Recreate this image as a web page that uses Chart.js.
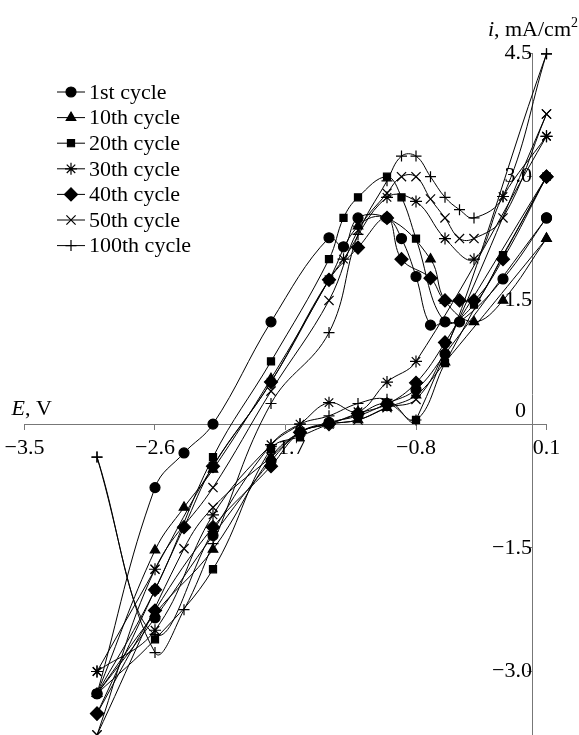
<html>
<head>
<meta charset="utf-8" />
<title>Cyclic voltammograms</title>
<script src="https://cdn.jsdelivr.net/npm/chart.js@4.4.0/dist/chart.umd.min.js"></script>
<style>
  html, body { margin: 0; padding: 0; background: #fff; overflow: hidden; }
</style>
</head>
<body>
<canvas id="grafico" width="579" height="735"></canvas>
<script>
// tick labels
const ticksE = [-3.5, -2.6, -1.7, -0.8, 0.1];
const ticksI = [-3.0, -1.5, 1.5, 3.0, 4.5];   // the 0 label sits above the axis, drawn apart

const nomes = ['1st cycle', '10th cycle', '20th cycle', '30th cycle', '40th cycle', '50th cycle', '100th cycle'];
const simbolos = ['circle', 'triangle', 'rect', 'star', 'rectRot', 'crossRot', 'cross'];
const raios = [5, 5.5, 5, 6, 6.5, 6.5, 5.5];

// [E, i] pairs: forward sweep, then the way back
const fwd1 = [[-3.0,-3.27],[-2.6,-0.77],[-2.4,-0.35],[-2.2,0.0],[-1.8,1.24],[-1.4,2.26],[-1.3,2.15],[-1.2,2.5],[-1.0,2.5],[-0.9,2.25],[-0.8,1.79],[-0.7,1.2],[-0.6,1.24],[-0.5,1.24],[-0.2,1.76],[0.1,2.5]];
const rev1 = [[-0.6,0.85],[-0.8,0.42],[-1.0,0.25],[-1.2,0.1],[-1.4,0.02],[-1.6,-0.1],[-1.8,-0.45],[-2.2,-1.35],[-2.6,-2.35],[-3.0,-3.27]];

const fwd10 = [[-3.0,-3.27],[-2.6,-1.53],[-2.4,-1.01],[-2.2,-0.55],[-1.8,0.55],[-1.4,1.75],[-1.2,2.4],[-1.0,2.5],[-0.7,2.0],[-0.6,1.5],[-0.4,1.24],[-0.2,1.5],[0.1,2.25]];
const rev10 = [[-0.6,0.75],[-0.8,0.35],[-1.0,0.2],[-1.2,0.05],[-1.4,0.0],[-1.6,-0.1],[-1.8,-0.4],[-2.2,-1.52],[-2.6,-2.3],[-3.0,-3.27]];

const fwd20 = [[-3.0,-3.27],[-2.6,-2.01],[-2.2,-0.4],[-1.8,0.76],[-1.4,2.0],[-1.3,2.5],[-1.2,2.75],[-1.0,3.0],[-0.9,2.75],[-0.8,2.25],[-0.6,1.24],[-0.4,1.45],[-0.2,2.05],[0.1,3.0]];
const rev20 = [[-0.6,0.74],[-0.8,0.05],[-1.0,0.25],[-1.2,0.12],[-1.4,0.0],[-1.6,-0.15],[-1.8,-0.3],[-2.2,-1.76],[-2.6,-2.61],[-3.0,-3.27]];

const fwd30 = [[-3.0,-3.0],[-2.6,-1.76],[-2.2,-0.51],[-1.8,0.51],[-1.4,1.75],[-1.3,2.0],[-1.0,2.75],[-0.8,2.7],[-0.6,2.25],[-0.4,2.0],[-0.2,2.76],[0.1,3.49]];
const rev30 = [[-0.8,0.76],[-1.0,0.51],[-1.2,0.15],[-1.4,0.26],[-1.6,0.0],[-1.8,-0.25],[-2.2,-1.1],[-2.6,-2.5],[-3.0,-3.0]];

const fwd40 = [[-3.0,-3.51],[-2.6,-2.01],[-2.4,-1.25],[-2.2,-0.51],[-1.8,0.51],[-1.4,1.75],[-1.2,2.14],[-1.0,2.5],[-0.9,2.0],[-0.7,1.77],[-0.6,1.5],[-0.5,1.5],[-0.4,1.5],[-0.2,2.0],[0.1,3.0]];
const rev40 = [[-0.6,0.99],[-0.8,0.5],[-1.0,0.24],[-1.2,0.13],[-1.4,0.0],[-1.6,-0.1],[-1.8,-0.51],[-2.2,-1.25],[-2.6,-2.26],[-3.0,-3.51]];

const fwd50 = [[-3.0,-3.77],[-2.6,-1.76],[-2.2,-0.77],[-1.8,0.4],[-1.4,1.5],[-1.2,2.35],[-1.0,2.8],[-0.9,3.0],[-0.8,3.0],[-0.7,2.73],[-0.6,2.5],[-0.5,2.25],[-0.4,2.25],[-0.2,2.5],[0.1,3.76]];
const rev50 = [[-0.6,0.9],[-0.8,0.3],[-1.0,0.2],[-1.2,0.05],[-1.4,0.0],[-1.6,-0.1],[-1.8,-0.4],[-2.2,-1.01],[-2.4,-1.51],[-3.0,-3.77]];

const fwd100 = [[-3.0,-0.4],[-2.6,-2.77],[-2.4,-2.25],[-2.2,-1.45],[-1.8,0.25],[-1.4,1.11],[-1.2,2.3],[-1.0,2.95],[-0.9,3.25],[-0.8,3.25],[-0.7,3.0],[-0.6,2.75],[-0.5,2.6],[-0.4,2.5],[-0.2,2.76],[0.1,4.49]];
const rev100 = [[-0.8,0.05],[-1.0,0.3],[-1.2,0.25],[-1.4,0.1],[-1.6,0.0],[-1.8,-0.25],[-2.2,-1.3],[-2.6,-2.55],[-3.0,-0.4]];

const ciclos = [[fwd1, rev1], [fwd10, rev10], [fwd20, rev20], [fwd30, rev30], [fwd40, rev40], [fwd50, rev50], [fwd100, rev100]];

const fonte = '"Liberation Serif", "Times New Roman", serif';
const menos = v => (v < 0 ? '\u2212' : '') + Math.abs(v).toFixed(1);

// break the line at the turning point so each sweep ends in a sharp corner
function montar(fwd, rev) {
    const pts = fwd.map(p => ({x: p[0], y: p[1]}));
    const ultimo = pts[pts.length - 1];
    pts.push({x: null, y: null});
    pts.push({x: ultimo.x, y: ultimo.y});
    rev.forEach(p => pts.push({x: p[0], y: p[1]}));
    return pts;
}

const textos = {
    id: 'textos',
    afterDraw(chart) {
        const c = chart.ctx;
        const sx = chart.scales.x, sy = chart.scales.y;
        const x0 = sx.getPixelForValue(0), y0 = sy.getPixelForValue(0);
        c.save();
        c.fillStyle = '#000';
        c.textBaseline = 'alphabetic';

        c.font = '22px ' + fonte;
        c.textAlign = 'right';
        c.fillText('0', x0 - 6, y0 - 7);

        // E, V
        c.textAlign = 'left';
        let px = sx.left - 13;
        c.font = 'italic 22px ' + fonte;
        c.fillText('E', px, y0 - 9);
        px += c.measureText('E').width;
        c.font = '22px ' + fonte;
        c.fillText(', V', px, y0 - 9);

        // i, mA/cm2
        c.font = 'italic 22px ' + fonte;
        const wi = c.measureText('i').width;
        c.font = '22px ' + fonte;
        const wu = c.measureText(', mA/cm').width;
        c.font = '14px ' + fonte;
        const w2 = c.measureText('2').width;
        px = 578 - wi - wu - w2;
        const by = 36;
        c.font = 'italic 22px ' + fonte;
        c.fillText('i', px, by);
        c.font = '22px ' + fonte;
        c.fillText(', mA/cm', px + wi, by);
        c.font = '14px ' + fonte;
        c.fillText('2', px + wi + wu, by - 9);

        // legend: short line with the marker on it
        c.font = '22px ' + fonte;
        c.textBaseline = 'middle';
        chart.data.datasets.forEach((ds, k) => {
            const y = 92 + k * 25.6;
            c.strokeStyle = '#000';
            c.lineWidth = 1;
            c.beginPath();
            c.moveTo(57, y);
            c.lineTo(85, y);
            c.stroke();
            c.fillStyle = '#000';
            c.lineWidth = 1.2;
            Chart.helpers.drawPoint(c, {pointStyle: ds.pointStyle, radius: ds.pointRadius, borderWidth: 1.2, rotation: 0}, 71, y);
            c.fillText(ds.label, 89, y + 1);
        });
        c.restore();
    }
};

Chart.defaults.font.family = fonte;
Chart.defaults.color = '#000';

// labels must not shrink the plot: the axes cross inside it
const semMargem = s => { s.paddingTop = 0; s.paddingBottom = 0; s.paddingLeft = 0; s.paddingRight = 0; };

new Chart(document.getElementById('grafico'), {
    type: 'scatter',
    data: {
        datasets: ciclos.map((c, k) => ({
            label: nomes[k],
            data: montar(c[0], c[1]),
            showLine: true,
            spanGaps: false,
            tension: 0.4,
            borderColor: '#000',
            backgroundColor: '#000',
            borderWidth: 1,
            pointStyle: simbolos[k],
            pointRadius: raios[k],
            pointBorderWidth: 1.2,
            pointBorderColor: '#000',
            pointBackgroundColor: '#000',
            clip: false
        }))
    },
    options: {
        responsive: false,
        devicePixelRatio: 1,
        animation: false,
        layout: {
            autoPadding: false,
            padding: {left: 24.5, right: 32.5, top: 53, bottom: 0}
        },
        plugins: {
            legend: {display: false},
            tooltip: {enabled: false}
        },
        scales: {
            x: {
                type: 'linear',
                min: -3.5,
                max: 0.1,
                position: {y: 0},
                grid: {drawOnChartArea: false, color: '#777', tickLength: 5},
                border: {display: true, color: '#777', width: 1},
                afterBuildTicks: s => { s.ticks = ticksE.map(v => ({value: v})); },
                afterFit: semMargem,
                ticks: {
                    callback: v => menos(v),
                    font: {size: 22},
                    padding: 6,
                    maxRotation: 0,
                    autoSkip: false
                }
            },
            y: {
                type: 'linear',
                min: -3.77,
                max: 4.5,
                position: {x: 0},
                grid: {drawOnChartArea: false, color: '#777', tickLength: 5},
                border: {display: true, color: '#777', width: 1},
                afterBuildTicks: s => { s.ticks = ticksI.map(v => ({value: v})); },
                afterFit: semMargem,
                ticks: {
                    callback: v => menos(v),
                    font: {size: 22},
                    padding: 7,
                    autoSkip: false
                }
            }
        }
    },
    plugins: [textos]
});
</script>
</body>
</html>
